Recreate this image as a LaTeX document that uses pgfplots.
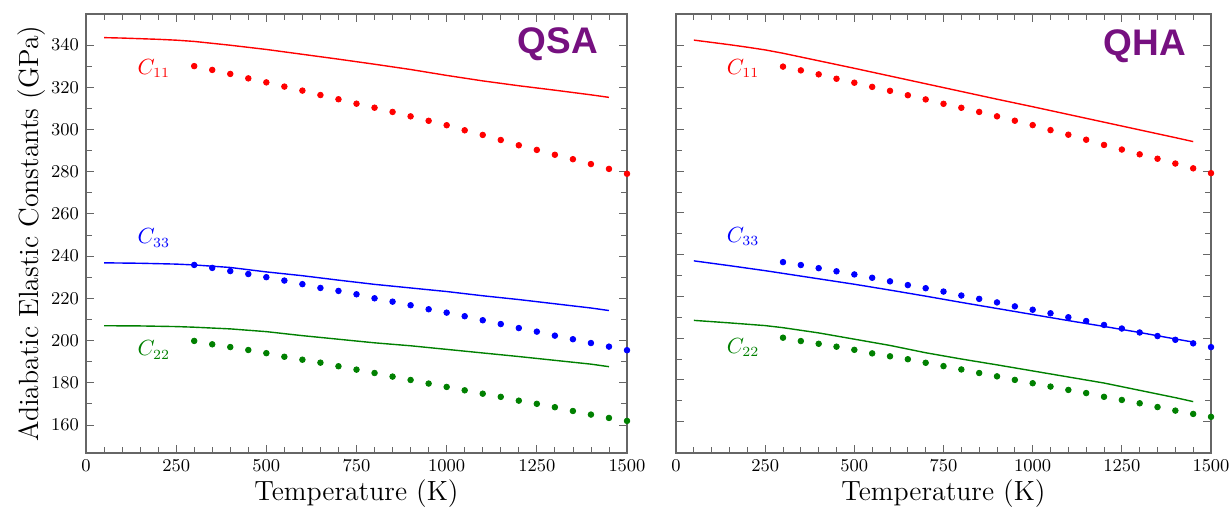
\documentclass[border=0pt]{standalone}
\usepackage{fontspec}
\usepackage{pgfplots}
\pgfplotsset{compat=1.18}
\newfontfamily\arialf{Liberation Sans}
\definecolor{dgreen}{RGB}{0,128,0}
\definecolor{lblpurple}{RGB}{118,16,128}
\pgfplotsset{
  panel/.style={
    scale only axis,
    xmin=0, xmax=1500,
    xtick={0,250,500,750,1000,1250,1500},
    ytick={160,180,...,340},
    minor x tick num=4,
    minor y tick num=1,
    clip=false,
    /pgf/number format/1000 sep={},
    axis line style={black!60, line width=0.6pt},
    every tick/.style={black!60, line width=0.4pt},
    major tick length=4pt,
    minor tick length=3pt,
    tick label style={font=\fontsize{9.2}{10}\selectfont},
    label style={font=\fontsize{13.9}{15}\selectfont},
    xlabel style={at={(axis description cs:0.5,0)}, anchor=north, yshift=-10pt},
  },
  qline/.style={line width=0.7pt, no marks},
  qdots/.style={only marks, mark=*, mark size=1.4pt},
}
\begin{document}
\begin{tikzpicture}
\path[use as bounding box] (-43pt,-27pt) rectangle (571.5pt,226.5pt);
% ---------------- QSA ----------------
\begin{axis}[panel,
  at={(0pt,0pt)}, anchor=south west,
  width=270.5pt, height=219.5pt,
  ymin=146.7, ymax=354.7,
  xlabel={Temperature (K)},
  ylabel={Adiabatic Elastic Constants (GPa)},
  ylabel shift=-4pt,
]
\addplot[qline, red] coordinates {(50,343.5)(100,343.3)(150,343.0)(200,342.7)(250,342.3)(300,341.7)(400,339.9)(500,337.9)(600,335.6)(700,333.3)(800,330.9)(900,328.4)(1000,325.6)(1100,323.0)(1200,320.7)(1300,318.6)(1400,316.4)(1450,315.2)};
\addplot[qline, blue] coordinates {(50,236.8)(150,236.6)(250,236.2)(300,235.8)(400,234.6)(500,232.5)(600,230.7)(700,228.6)(800,226.6)(900,224.9)(1000,223.2)(1100,221.2)(1200,219.4)(1300,217.4)(1400,215.4)(1450,214.2)};
\addplot[qline, dgreen] coordinates {(50,207.0)(150,206.9)(250,206.6)(300,206.3)(400,205.5)(500,204.2)(600,202.3)(700,200.6)(800,198.9)(900,197.5)(1000,195.8)(1100,194.1)(1200,192.4)(1300,190.6)(1400,188.8)(1450,187.6)};
\addplot[qdots, red] coordinates {(300,330.0)(350,328.2)(400,326.3)(450,324.2)(500,322.3)(550,320.3)(600,318.4)(650,316.3)(700,314.3)(750,312.2)(800,310.3)(850,308.3)(900,306.2)(950,304.1)(1000,302.0)(1050,299.6)(1100,297.4)(1150,295.0)(1200,292.5)(1250,290.3)(1300,288.0)(1350,285.9)(1400,283.6)(1450,281.3)(1500,279.0)};
\addplot[qdots, blue] coordinates {(300,235.8)(350,234.4)(400,232.9)(450,231.5)(500,230.0)(550,228.4)(600,226.7)(650,224.9)(700,223.5)(750,221.9)(800,220.0)(850,218.4)(900,216.7)(950,214.8)(1000,213.2)(1050,211.5)(1100,209.6)(1150,207.8)(1200,205.9)(1250,204.2)(1300,202.3)(1350,200.6)(1400,198.8)(1450,197.1)(1500,195.4)};
\addplot[qdots, dgreen] coordinates {(300,199.8)(350,198.2)(400,196.9)(450,195.5)(500,194.0)(550,192.3)(600,190.9)(650,189.5)(700,187.8)(750,186.2)(800,184.6)(850,182.9)(900,181.3)(950,179.6)(1000,178.0)(1050,176.4)(1100,174.8)(1150,173.3)(1200,171.5)(1250,170.0)(1300,168.4)(1350,166.6)(1400,164.9)(1450,163.3)(1500,161.9)};
\node[red, font=\fontsize{10.5}{12}\selectfont] at (axis cs:188,329) {$C_{11}$};
\node[blue, font=\fontsize{10.5}{12}\selectfont] at (axis cs:188,248.5) {$C_{33}$};
\node[dgreen, font=\fontsize{10.5}{12}\selectfont] at (axis cs:188,195.5) {$C_{22}$};
\node[lblpurple, font=\arialf\bfseries\fontsize{18.5}{20}\selectfont] at (axis cs:1308,340.3) {QSA};
\end{axis}
% ---------------- QHA ----------------
\begin{axis}[panel,
  at={(295pt,0pt)}, anchor=south west,
  width=267.5pt, height=219.5pt,
  ymin=145.0, ymax=355.2,
  yticklabels={},
  xlabel={Temperature (K)},
]
\addplot[qline, red] coordinates {(50,342.7)(100,341.6)(150,340.5)(200,339.3)(250,338.0)(300,336.4)(400,332.8)(500,329.2)(600,325.5)(700,321.8)(800,318.1)(900,314.4)(1000,310.8)(1100,307.1)(1200,303.4)(1300,299.7)(1400,296.0)(1450,294.1)};
\addplot[qline, blue] coordinates {(50,237.0)(150,234.7)(250,232.3)(300,231.0)(400,228.4)(500,225.8)(600,223.0)(700,220.1)(800,217.1)(900,214.2)(1000,211.3)(1100,208.4)(1200,205.6)(1300,202.7)(1400,199.6)(1450,198.1)};
\addplot[qline, dgreen] coordinates {(50,208.5)(150,207.3)(250,206.0)(300,205.0)(400,202.5)(500,199.5)(600,196.5)(700,193.0)(800,190.0)(900,187.2)(1000,184.3)(1100,181.4)(1200,178.5)(1300,175.0)(1400,171.5)(1450,169.6)};
\addplot[qdots, red] coordinates {(300,330.0)(350,328.2)(400,326.3)(450,324.2)(500,322.3)(550,320.3)(600,318.4)(650,316.3)(700,314.3)(750,312.2)(800,310.3)(850,308.3)(900,306.2)(950,304.1)(1000,302.0)(1050,299.6)(1100,297.4)(1150,295.0)(1200,292.5)(1250,290.3)(1300,288.0)(1350,285.9)(1400,283.6)(1450,281.3)(1500,279.0)};
\addplot[qdots, blue] coordinates {(300,236.4)(350,235.0)(400,233.5)(450,232.0)(500,230.5)(550,228.9)(600,227.2)(650,225.4)(700,223.9)(750,222.3)(800,220.4)(850,218.8)(900,217.1)(950,215.2)(1000,213.6)(1050,211.9)(1100,210.0)(1150,208.2)(1200,206.3)(1250,204.6)(1300,202.7)(1350,201.0)(1400,199.2)(1450,197.5)(1500,195.7)};
\addplot[qdots, dgreen] coordinates {(300,200.2)(350,198.6)(400,197.3)(450,195.9)(500,194.4)(550,192.7)(600,191.3)(650,189.9)(700,188.2)(750,186.6)(800,185.0)(850,183.3)(900,181.7)(950,180.0)(1000,178.4)(1050,176.8)(1100,175.2)(1150,173.7)(1200,171.9)(1250,170.4)(1300,168.8)(1350,167.0)(1400,165.3)(1450,163.7)(1500,162.3)};
\node[red, font=\fontsize{10.5}{12}\selectfont] at (axis cs:188,329) {$C_{11}$};
\node[blue, font=\fontsize{10.5}{12}\selectfont] at (axis cs:188,248.5) {$C_{33}$};
\node[dgreen, font=\fontsize{10.5}{12}\selectfont] at (axis cs:188,195.5) {$C_{22}$};
\node[lblpurple, font=\arialf\bfseries\fontsize{18.5}{20}\selectfont] at (axis cs:1315,340) {QHA};
\end{axis}
\end{tikzpicture}
\end{document}
